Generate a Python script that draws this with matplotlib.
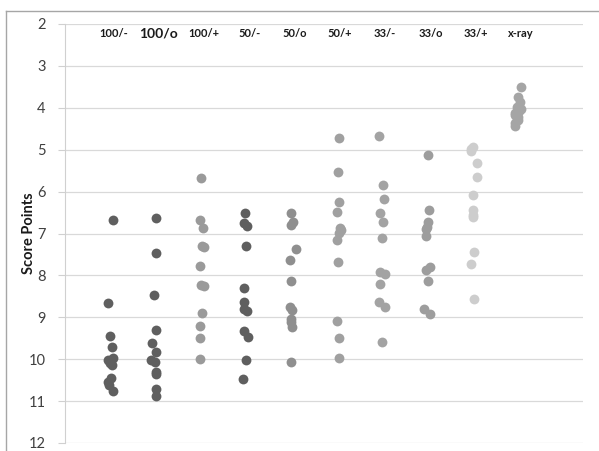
import matplotlib
matplotlib.use('Agg')
import matplotlib.pyplot as plt
from matplotlib.lines import Line2D

plt.rcParams['font.family'] = ['Lato', 'DejaVu Sans']

categories = ['100/-', '100/o', '100/+', '50/-', '50/o', '50/+', '33/-', '33/o', '33/+', 'x-ray']

# score points, one list per condition
scores = {
    '100/-': [6.68, 8.67, 9.45, 9.72, 9.97, 10.03, 10.10, 10.14, 10.44, 10.55, 10.62, 10.77],
    '100/o': [6.62, 7.47, 8.47, 9.30, 9.61, 9.84, 10.03, 10.07, 10.30, 10.36, 10.71, 10.88],
    '100/+': [5.67, 6.68, 6.86, 7.30, 7.33, 7.78, 8.22, 8.25, 8.89, 9.21, 9.49, 10.00],
    '50/-':  [6.52, 6.74, 6.82, 7.30, 8.29, 8.63, 8.81, 8.84, 9.32, 9.46, 10.03, 10.47],
    '50/o':  [6.52, 6.73, 6.80, 7.38, 7.63, 8.13, 8.75, 8.83, 9.05, 9.12, 9.22, 10.06],
    '50/+':  [4.73, 5.54, 6.24, 6.48, 6.86, 6.92, 6.98, 7.16, 7.67, 9.10, 9.50, 9.96],
    '33/-':  [4.67, 5.84, 6.18, 6.52, 6.72, 7.11, 7.91, 7.97, 8.21, 8.64, 8.75, 9.58],
    '33/o':  [5.13, 6.44, 6.72, 6.84, 6.90, 7.07, 7.79, 7.87, 8.13, 8.79, 8.91],
    '33/+':  [4.93, 4.98, 5.02, 5.31, 5.66, 6.08, 6.44, 6.55, 6.61, 7.43, 7.73, 8.57],
    'x-ray': [3.51, 3.75, 3.87, 3.98, 4.03, 4.08, 4.12, 4.17, 4.22, 4.30, 4.36, 4.43],
}

# horizontal scatter of each point around its column
jitter = {
    '100/-': [0.07, -0.04, 0, 0.04, 0.07, -0.04, 0, 0.04, 0.02, -0.04, -0.02, 0.07],
    '100/o': [0, 0, -0.04, 0, -0.07, 0.02, -0.09, -0.02, 0, 0.02, 0.02, 0],
    '100/+': [0, -0.02, 0.04, 0.02, 0.07, -0.02, 0, 0.07, 0.02, -0.02, -0.02, -0.02],
    '50/-':  [-0.02, -0.04, 0.02, 0, -0.04, -0.04, -0.04, 0.02, -0.04, 0.04, 0, -0.07],
    '50/o':  [0, 0.04, -0.02, 0.09, -0.04, -0.02, -0.04, 0.02, -0.02, 0, 0.02, -0.02],
    '50/+':  [0.04, 0.02, 0.04, 0, 0.07, 0.09, 0.04, 0, 0.02, 0, 0.04, 0.04],
    '33/-':  [-0.07, 0.02, 0.04, -0.04, 0.02, 0, -0.04, 0.07, -0.04, -0.07, 0.07, 0],
    '33/o':  [0.02, 0.04, 0.02, 0, -0.02, -0.04, 0.07, -0.02, 0.02, -0.07, 0.07],
    '33/+':  [0, -0.04, -0.04, 0.09, 0.09, 0, 0, 0, 0, 0.02, -0.04, 0.04],
    'x-ray': [0.07, 0, 0.04, -0.02, 0.07, 0.02, -0.07, -0.07, 0, 0, -0.07, -0.07],
}

colors = ['#5f5f5f', '#5f5f5f', '#9a9a9a', '#5f5f5f', '#8f8f8f',
          '#a0a0a0', '#a3a3a3', '#9d9d9d', '#cdcdcd', '#a5a5a5']

fig = plt.figure(figsize=(5.99, 4.51), dpi=100)
ax = fig.add_axes([0.1085, 1 - 443 / 451, 0.865, (443 - 24) / 451])

for i, cat in enumerate(categories):
    xs = [i + 1 + j for j in jitter[cat]]
    ax.scatter(xs, scores[cat], s=50, color=colors[i], linewidths=0, zorder=3)
    size = 10 if cat == '100/o' else 8
    ax.text(i + 1.07, 2.22, cat, ha='center', va='center', fontsize=size,
            fontweight='bold', color='#1a1a1a')

ax.set_xlim(0, 11.44)
ax.set_ylim(12, 2)
ax.set_yticks(range(2, 13))
ax.set_xticks([])
ax.grid(axis='y', color='#d9d9d9', linewidth=0.9, zorder=0)
ax.set_axisbelow(True)
for side in ['top', 'right', 'bottom']:
    ax.spines[side].set_visible(False)
ax.spines['left'].set_color('#d0d0d0')
ax.tick_params(axis='y', length=5, pad=9, color='#d0d0d0', labelsize=10.5, labelcolor='#404040')
ax.set_ylabel('Score Points', fontsize=10.5, fontweight='bold', color='#1a1a1a')
ax.yaxis.set_label_coords(-0.055, 0.5)

# outer chart frame (only top and left edges are inside the picture)
fig.add_artist(Line2D([6 / 599, 1], [1 - 11 / 451, 1 - 11 / 451], color='#a6a6a6', linewidth=1))
fig.add_artist(Line2D([6 / 599, 6 / 599], [0, 1 - 11 / 451], color='#a6a6a6', linewidth=1))

fig.savefig('out.png', dpi=100)
